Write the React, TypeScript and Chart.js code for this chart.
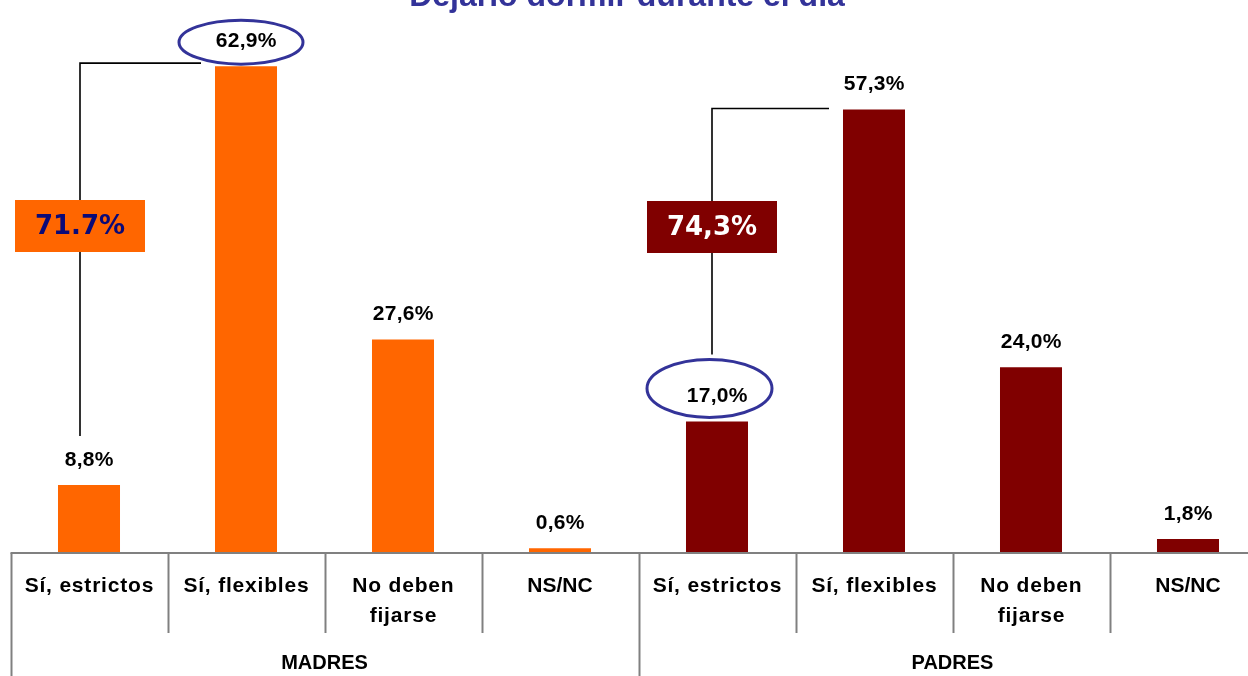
import React, { useEffect, useRef } from "react";
import { Chart, registerables } from "chart.js";

Chart.register(...registerables);

// ---------- data ----------
const titleText = "Dejarlo dormir durante el día";
const groups = ["MADRES", "PADRES"];
const categoryLines: string[][] = [
  ["Sí, estrictos"],
  ["Sí, flexibles"],
  ["No deben", "fijarse"],
  ["NS/NC"],
];
const madresValues = [8.8, 62.9, 27.6, 0.6];
const padresValues = [17.0, 57.3, 24.0, 1.8];
const totalLabels = ["71.7%", "74,3%"];

const ORANGE = "#FF6600";
const MAROON = "#800000";
const NAVY = "#333399";

const W = 1290;
const H = 676;

const labels = [...categoryLines, ...categoryLines].map((l) => l.join(" "));
const values = [...madresValues, ...padresValues];
const colors = [
  ...madresValues.map(() => ORANGE),
  ...padresValues.map(() => MAROON),
];

const fmt = (v: number) => v.toFixed(1).replace(".", ",") + "%";

const decorPlugin = {
  id: "decor",
  afterDatasetsDraw(chart: any) {
    const ctx: CanvasRenderingContext2D = chart.ctx;
    const area = chart.chartArea;
    const x = chart.scales.x;
    const y = chart.scales.y;
    const meta = chart.getDatasetMeta(0);
    const n = labels.length;
    const catW = (area.right - area.left) / n;
    const y0 = y.getPixelForValue(0);

    ctx.save();
    // title (partly cut off at top)
    ctx.fillStyle = NAVY;
    ctx.font = 'bold 32px "Liberation Sans", Arial, sans-serif';
    ctx.textAlign = "center";
    ctx.textBaseline = "alphabetic";
    ctx.fillText(titleText, 627, 6);

    // axis line
    ctx.strokeStyle = "#808080";
    ctx.lineWidth = 2;
    ctx.beginPath();
    ctx.moveTo(area.left, y0);
    ctx.lineTo(W, y0);
    ctx.stroke();
    // separators
    for (let i = 0; i <= n; i++) {
      const sx = Math.round(area.left + i * catW) + 0.5;
      const long = i % 4 === 0;
      ctx.beginPath();
      ctx.moveTo(sx, y0);
      ctx.lineTo(sx, long ? H : y0 + 80);
      ctx.stroke();
    }

    // category labels
    ctx.fillStyle = "#000";
    ctx.font = 'bold 21px "Liberation Sans", Arial, sans-serif';
    ctx.textBaseline = "middle";
    for (let i = 0; i < n; i++) {
      const lines = categoryLines[i % categoryLines.length];
      const cx = x.getPixelForValue(i);
      lines.forEach((ln, k) => {
        const lower = /[a-z]/.test(ln);
        (ctx as any).letterSpacing = lower ? "0.8px" : "0px";
        ctx.fillText(ln, cx + (lower ? 0.4 : 0), y0 + 33 + k * 30);
      });
    }
    (ctx as any).letterSpacing = "0px";
    // group labels
    ctx.font = 'bold 20px "Liberation Sans", Arial, sans-serif';
    groups.forEach((g, gi) => {
      const gx = area.left + (gi * 4 + 2) * catW;
      ctx.fillText(g, gx, 663);
    });

    // brackets
    const bar = (i: number) => meta.data[i];
    ctx.strokeStyle = "#000";
    ctx.lineWidth = 1.6;
    const brackets = [
      { a: 0, b: 1, dx: -9, topDy: -3, bottom: bar(0).y - 49 },
      { a: 4, b: 5, dx: -5, topDy: -1, bottom: bar(4).y - 67 },
    ];
    const bx: number[] = [];
    brackets.forEach((br) => {
      const vx = bar(br.a).x + br.dx;
      bx.push(vx);
      const topY = bar(br.b).y + br.topDy;
      const endX = bar(br.b).x - bar(br.b).width / 2 - 14;
      ctx.beginPath();
      ctx.moveTo(endX, topY);
      ctx.lineTo(vx, topY);
      ctx.lineTo(vx, br.bottom);
      ctx.stroke();
    });

    // ellipses
    const ellipses = [
      { i: 1, dx: -5, cyOff: -24, rx: 62, ry: 22 },
      { i: 4, dx: -7.5, cyOff: -33, rx: 62.5, ry: 29 },
    ];
    ellipses.forEach((e) => {
      const cx = bar(e.i).x + e.dx;
      const cy = bar(e.i).y + e.cyOff;
      ctx.beginPath();
      ctx.ellipse(cx, cy, e.rx, e.ry, 0, 0, Math.PI * 2);
      ctx.fillStyle = "#fff";
      ctx.fill();
      ctx.strokeStyle = NAVY;
      ctx.lineWidth = 3;
      ctx.stroke();
    });

    // value labels
    ctx.fillStyle = "#000";
    ctx.font = 'bold 21px "Liberation Sans", Arial, sans-serif';
    ctx.textBaseline = "alphabetic";
    (ctx as any).letterSpacing = "0.3px";
    values.forEach((v, i) => {
      const el = bar(i);
      ctx.fillText(fmt(v), el.x + 0.2, el.y - 19);
    });
    (ctx as any).letterSpacing = "0px";

    // total boxes
    const boxFill = [ORANGE, MAROON];
    const boxText = ["#0A0A78", "#FFFFFF"];
    const boxTop = [200, 201];
    totalLabels.forEach((t, gi) => {
      const cx = bx[gi];
      ctx.fillStyle = boxFill[gi];
      ctx.fillRect(cx - 65, boxTop[gi], 130, 52);
      ctx.fillStyle = boxText[gi];
      ctx.font = 'bold 26px "DejaVu Sans", Verdana, sans-serif';
      ctx.textBaseline = "middle";
      ctx.fillText(t, cx, boxTop[gi] + 27);
    });
    ctx.restore();
  },
};

export default function App() {
  const ref = useRef<HTMLCanvasElement | null>(null);
  useEffect(() => {
    if (!ref.current) return;
    const chart = new Chart(ref.current, {
      type: "bar",
      data: {
        labels,
        datasets: [
          {
            data: values,
            backgroundColor: colors,
            borderWidth: 0,
            barPercentage: 0.395,
            categoryPercentage: 1,
          },
        ],
      },
      options: {
        responsive: false,
        animation: false,
        layout: {
          padding: { left: 10.5, right: W - 1266.5, top: 553 - 70 * 7.74, bottom: H - 553 },
        },
        plugins: {
          legend: { display: false },
          tooltip: { enabled: false },
          title: { display: false },
        },
        scales: {
          x: { display: false },
          y: { display: false, min: 0, max: 70 },
        },
      },
      plugins: [decorPlugin],
    });
    return () => chart.destroy();
  }, []);
  return (
    <div
      style={{
        position: "absolute",
        left: 0,
        top: 0,
        width: 1248,
        height: 676,
        overflow: "hidden",
        background: "#fff",
      }}
    >
      <canvas ref={ref} width={W} height={H} style={{ width: W, height: H, display: "block" }} />
    </div>
  );
}
